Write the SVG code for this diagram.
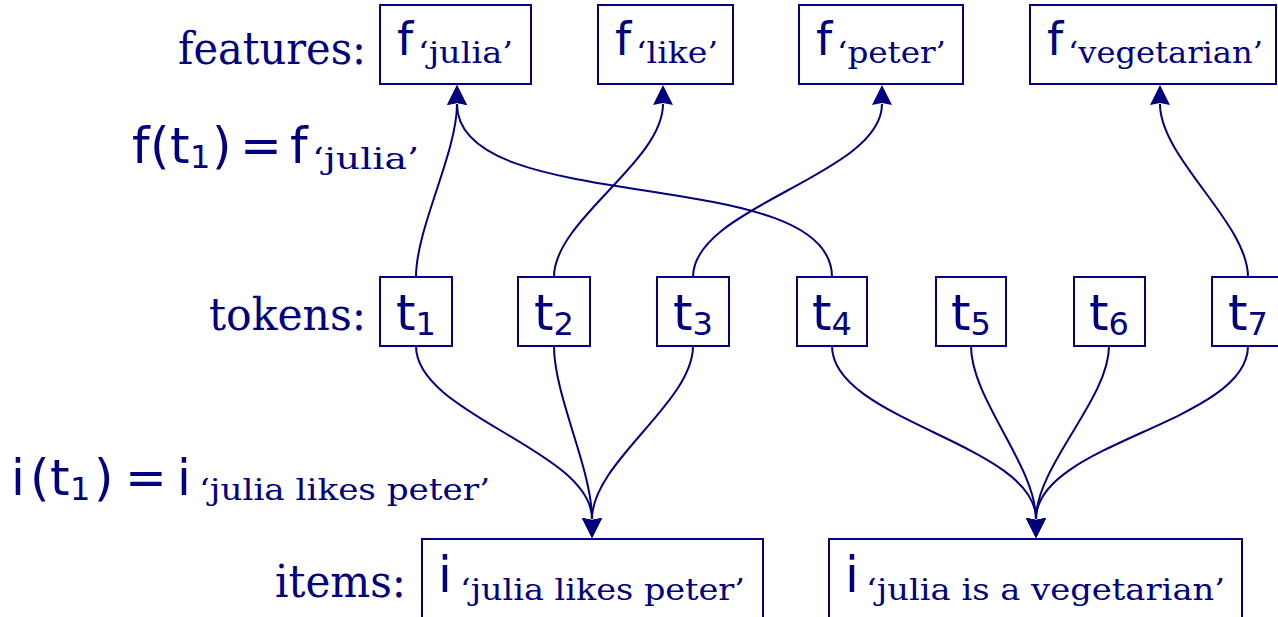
<svg xmlns="http://www.w3.org/2000/svg" width="1278" height="617" viewBox="0 0 1278 617">
<defs>
<style>
.box{fill:#fff;stroke:#000080;stroke-width:2}
.lbl{font-family:"DejaVu Serif","Liberation Serif",serif;fill:#000080;font-size:44px}
.m{font-family:"DejaVu Sans","Noto Sans",sans-serif;fill:#000080}
.sub{font-family:"DejaVu Serif","Liberation Serif",serif;fill:#000080;font-size:29px}
.e{fill:none;stroke:#000080;stroke-width:2}
</style>
<marker id="ah" markerUnits="userSpaceOnUse" markerWidth="24" markerHeight="24" refX="1" refY="10" orient="auto" overflow="visible">
<path d="M20,10 L0,0 L2,10 L0,20 Z" fill="#000080"/>
</marker>
</defs>
<rect width="1278" height="617" fill="#fff"/>
<g id="labels">
<text class="lbl" x="366" y="64" text-anchor="end" textLength="188" lengthAdjust="spacingAndGlyphs">features:</text>
<text class="lbl" x="366" y="330" text-anchor="end" textLength="157" lengthAdjust="spacingAndGlyphs">tokens:</text>
<text class="lbl" x="406" y="597" text-anchor="end" textLength="131" lengthAdjust="spacingAndGlyphs">items:</text>
<text class="m" font-size="50" y="163"><tspan x="132">f</tspan><tspan x="150">(</tspan><tspan x="170">t</tspan><tspan x="190" y="168" font-size="32">1</tspan><tspan x="212" y="163">)</tspan><tspan x="240">=</tspan><tspan x="290">f</tspan></text>
<text class="sub" x="312" y="169" textLength="107" lengthAdjust="spacingAndGlyphs">‘julia’</text>
<text class="m" font-size="50" y="495"><tspan x="11">i</tspan><tspan x="30">(</tspan><tspan x="50">t</tspan><tspan x="70" y="500" font-size="32">1</tspan><tspan x="94" y="495">)</tspan><tspan x="125">=</tspan><tspan x="177">i</tspan></text>
<text class="sub" x="199" y="500" textLength="291" lengthAdjust="spacingAndGlyphs">‘julia likes peter’</text>
</g>
<g id="f_julia"><rect class="box" x="380" y="5" width="151" height="79"/><text class="m" x="397" y="55" font-size="46">f</text><text class="sub" x="418" y="63" textLength="95" lengthAdjust="spacingAndGlyphs">‘julia’</text></g>
<g id="f_like"><rect class="box" x="598" y="5" width="135" height="79"/><text class="m" x="615" y="55" font-size="46">f</text><text class="sub" x="636" y="63" textLength="82" lengthAdjust="spacingAndGlyphs">‘like’</text></g>
<g id="f_peter"><rect class="box" x="799" y="5" width="164" height="79"/><text class="m" x="816" y="55" font-size="46">f</text><text class="sub" x="837" y="63" textLength="109" lengthAdjust="spacingAndGlyphs">‘peter’</text></g>
<g id="f_vegetarian"><rect class="box" x="1030" y="5" width="246" height="79"/><text class="m" x="1047" y="55" font-size="46">f</text><text class="sub" x="1068" y="63" textLength="195" lengthAdjust="spacingAndGlyphs">‘vegetarian’</text></g>
<g id="t1"><rect class="box" x="380" y="277" width="72" height="69"/><text class="m" x="396" y="330" font-size="50">t<tspan font-size="32" dy="5">1</tspan></text></g>
<g id="t2"><rect class="box" x="518" y="277" width="72" height="69"/><text class="m" x="534" y="330" font-size="50">t<tspan font-size="32" dy="5">2</tspan></text></g>
<g id="t3"><rect class="box" x="657" y="277" width="72" height="69"/><text class="m" x="673" y="330" font-size="50">t<tspan font-size="32" dy="5">3</tspan></text></g>
<g id="t4"><rect class="box" x="797" y="277" width="70" height="69"/><text class="m" x="812" y="330" font-size="50">t<tspan font-size="32" dy="5">4</tspan></text></g>
<g id="t5"><rect class="box" x="936" y="277" width="70" height="69"/><text class="m" x="951" y="330" font-size="50">t<tspan font-size="32" dy="5">5</tspan></text></g>
<g id="t6"><rect class="box" x="1074" y="277" width="71" height="69"/><text class="m" x="1089" y="330" font-size="50">t<tspan font-size="32" dy="5">6</tspan></text></g>
<g id="t7"><rect class="box" x="1212" y="277" width="72" height="69"/><text class="m" x="1228" y="330" font-size="50">t<tspan font-size="32" dy="5">7</tspan></text></g>
<g id="i1"><rect class="box" x="422" y="539" width="341" height="90"/><text class="m" x="438" y="592" font-size="50">i</text><text class="sub" x="460" y="600" textLength="285" lengthAdjust="spacingAndGlyphs">‘julia likes peter’</text></g>
<g id="i2"><rect class="box" x="829" y="539" width="413" height="90"/><text class="m" x="845" y="592" font-size="50">i</text><text class="sub" x="866" y="600" textLength="359" lengthAdjust="spacingAndGlyphs">‘julia is a vegetarian’</text></g>
<g id="connectors">
<path class="e" marker-end="url(#ah)" d="M416,277 C416,228 457,153 457,104"/>
<path class="e" marker-end="url(#ah)" d="M832,277 C832,162 457,219 457,104"/>
<path class="e" marker-end="url(#ah)" d="M554,277 C554,220 663,162 663,104"/>
<path class="e" marker-end="url(#ah)" d="M693,277 C693,206 882,175 882,104"/>
<path class="e" marker-end="url(#ah)" d="M1248,277 C1248,223 1160,158 1160,104"/>
<path class="e" marker-end="url(#ah)" d="M416,346 C416,415 592,450 592,519"/>
<path class="e" marker-end="url(#ah)" d="M554,346 C554,396 592,469 592,519"/>
<path class="e" marker-end="url(#ah)" d="M693,346 C693,403 592,462 592,519"/>
<path class="e" marker-end="url(#ah)" d="M832,346 C832,421 1036,444 1036,519"/>
<path class="e" marker-end="url(#ah)" d="M971,346 C971,399 1036,466 1036,519"/>
<path class="e" marker-end="url(#ah)" d="M1109,346 C1109,399 1036,466 1036,519"/>
<path class="e" marker-end="url(#ah)" d="M1248,346 C1248,423 1036,442 1036,519"/>
</g>
</svg>
